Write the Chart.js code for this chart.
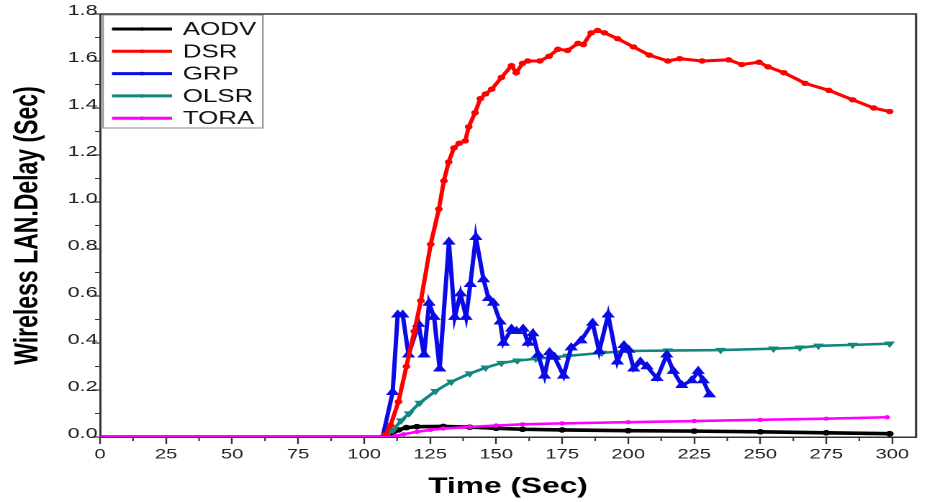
<!DOCTYPE html>
<html><head><meta charset="utf-8">
<script src="https://cdn.jsdelivr.net/npm/chart.js@4"></script>
<style>
html,body{margin:0;padding:0;background:#fff;overflow:hidden;}
#c{display:block;width:927px !important;height:502px !important;}
</style></head>
<body><canvas id="c" width="644" height="502"></canvas>
<script>
// ---- Tick values / labels ----
const xTickValues = [0,25,50,75,100,125,150,175,200,225,250,275,300];
const xMinorTicks = [12.5,37.5,62.5,87.5,112.5,137.5,162.5,187.5,212.5,237.5,262.5,287.5];
const yTickValues = [0,0.2,0.4,0.6,0.8,1.0,1.2,1.4,1.6,1.8];
const yMinorTicks = [0.1,0.3,0.5,0.7,0.9,1.1,1.3,1.5,1.7];
const seriesNames = ['AODV','DSR','GRP','OLSR','TORA'];

// ---- AODV ----
const aodvTime  = [0,20,40,60,80,100,107,110,113,116,120,130,140,150,160,175,200,225,250,275,299];
const aodvDelay = [0,0,0,0,0,0,0,0.012,0.03,0.04,0.044,0.045,0.042,0.037,0.033,0.03,0.027,0.025,0.022,0.018,0.014];

// ---- DSR ----
const dsrTime  = [0,20,40,60,80,100,106,108,110,113,116,119,121.5,125.2,128.3,130.2,132,134,136,138.3,139.6,142,144,146,148.3,152,155.8,157.6,160,162,166.5,170,173.4,177,181,183,186,188.4,191,196,202,208,215,219.5,228,238,243,249.5,253,259,267,276,285,293,299];
const dsrDelay = [0,0,0,0,0,0,0,0.01,0.05,0.15,0.3,0.45,0.58,0.82,0.97,1.09,1.17,1.23,1.25,1.26,1.32,1.38,1.44,1.46,1.48,1.53,1.58,1.55,1.59,1.60,1.60,1.62,1.65,1.645,1.675,1.67,1.72,1.73,1.72,1.695,1.66,1.625,1.60,1.61,1.60,1.605,1.585,1.595,1.575,1.55,1.505,1.475,1.435,1.40,1.385];

// ---- GRP ----
const grpTime  = [0,20,40,60,80,100,107,110.8,112.7,114.6,116.8,120.6,122.7,124.6,126.5,128.6,132.1,134.3,136.5,138.6,140.2,142.3,145.2,147.1,149,151.5,152.7,155.8,157.7,160.2,162.1,163.9,165.9,168.3,170.2,172.1,175.5,178.4,182.1,186.5,189,192.4,195.9,198.4,200.2,202.1,204.6,207.1,210.9,214.6,217.1,220.3,224,226.5,228.4,230.8];
const grpDelay = [0,0,0,0,0,0,0,0.19,0.52,0.52,0.35,0.48,0.35,0.57,0.51,0.29,0.83,0.51,0.61,0.51,0.65,0.85,0.67,0.59,0.57,0.49,0.40,0.46,0.45,0.46,0.40,0.44,0.35,0.26,0.36,0.34,0.26,0.38,0.41,0.485,0.365,0.52,0.32,0.39,0.37,0.29,0.32,0.30,0.25,0.35,0.28,0.22,0.24,0.28,0.24,0.18];

// ---- OLSR ----
const olsrTime  = [0,20,40,60,80,100,108,111,114,117,121,127,133,140,146,152,158,165,177,190,200,215,235,255,265,272,285,299];
const olsrDelay = [0,0,0,0,0,0,0,0.03,0.07,0.10,0.145,0.195,0.235,0.27,0.295,0.315,0.325,0.333,0.345,0.358,0.366,0.368,0.37,0.376,0.38,0.388,0.392,0.397];

// ---- TORA ----
const toraTime  = [0,20,40,60,80,100,109,112,115,120,125,130,140,150,160,175,200,225,250,275,298];
const toraDelay = [0,0,0,0,0,0,0,0.005,0.012,0.022,0.03,0.036,0.043,0.049,0.054,0.058,0.063,0.068,0.073,0.078,0.084];

const colors = ['#000000','#ff0000','#0a0ae6','#12877d','#ff00ff'];

function pts(t, v){ return t.map((x,i)=>({x:x, y:v[i]})); }
function rad(r){ return (c)=> (c.raw && c.raw.y === 0) ? 0 : r; }

const datasets = [
  {label:seriesNames[0], data:pts(aodvTime,aodvDelay), borderColor:colors[0], backgroundColor:colors[0], borderWidth:3.6, pointStyle:'circle', pointRadius:rad(1), order:4},
  {label:seriesNames[1], data:pts(dsrTime,dsrDelay), borderColor:colors[1], backgroundColor:colors[1], borderWidth:3, pointStyle:'circle', pointRadius:rad(1.2), order:1},
  {label:seriesNames[2], data:pts(grpTime,grpDelay), borderColor:colors[2], backgroundColor:colors[2], borderWidth:3, pointStyle:'triangle', pointRadius:rad(2.4), order:2},
  {label:seriesNames[3], data:pts(olsrTime,olsrDelay), borderColor:colors[3], backgroundColor:colors[3], borderWidth:2.6, pointStyle:'triangle', pointRotation:180, pointRadius:rad(1.7), order:3},
  {label:seriesNames[4], data:pts(toraTime,toraDelay), borderColor:colors[4], backgroundColor:colors[4], borderWidth:2.6, pointStyle:'circle', pointRadius:rad(0.8), order:0}
];

const framePlugin = {
  id:'frame',
  afterDraw(chart){
    const {ctx, chartArea:a, scales:{x,y}} = chart;
    ctx.save();
    ctx.strokeStyle='#333'; ctx.lineWidth=1.5;
    ctx.beginPath();
    ctx.moveTo(a.left,a.top); ctx.lineTo(a.right,a.top); ctx.lineTo(a.right,a.bottom);
    ctx.stroke();
    ctx.lineWidth=1.1;
    ctx.beginPath();
    xMinorTicks.forEach(v=>{const p=x.getPixelForValue(v); ctx.moveTo(p,a.bottom); ctx.lineTo(p,a.bottom+4);});
    yMinorTicks.forEach(v=>{const p=y.getPixelForValue(v); ctx.moveTo(a.left,p); ctx.lineTo(a.left-3.5,p);});
    ctx.stroke();
    // legend
    const bx=71.6, by=15, bw=111, bh=113;
    ctx.fillStyle='#fff'; ctx.fillRect(bx,by,bw,bh);
    ctx.strokeStyle='#8a8a8a'; ctx.lineWidth=1; ctx.strokeRect(bx,by,bw,bh);
    ctx.font='18px "Liberation Sans", Arial, sans-serif';
    ctx.textBaseline='middle'; ctx.textAlign='left';
    chart.data.datasets.forEach((d,i)=>{
      const yy = 29 + i*22.3;
      ctx.strokeStyle=d.borderColor; ctx.lineWidth=3;
      ctx.beginPath(); ctx.moveTo(77.8,yy); ctx.lineTo(119.5,yy); ctx.stroke();
      ctx.fillStyle=d.borderColor;
      ctx.beginPath(); ctx.arc(98.6,yy,1.8,0,Math.PI*2); ctx.fill();
      ctx.fillStyle='#111';
      ctx.fillText(d.label,127,yy+1);
    });
    ctx.restore();
  }
};

new Chart(document.getElementById('c'), {
  type:'line',
  data:{datasets},
  options:{
    responsive:false,
    devicePixelRatio:2,
    animation:false,
    layout:{padding:{top:14,right:3.5,left:0,bottom:0}},
    elements:{line:{tension:0}},
    plugins:{legend:{display:false}, tooltip:{enabled:false}},
    scales:{
      x:{
        type:'linear', min:0, max:309,
        afterBuildTicks(s){ s.ticks = xTickValues.map(v=>({value:v})); },
        afterFit(s){ s.height = 65; },
        grid:{drawOnChartArea:false, drawTicks:true, tickLength:7, tickColor:'#333', tickWidth:1.2},
        border:{display:true, color:'#333', width:1.5},
        ticks:{autoSkip:false, maxRotation:0, padding:2, color:'#222', font:{family:'"Liberation Sans", Arial, sans-serif', size:14}},
        title:{display:true, text:'Time (Sec)', color:'#000', padding:{top:0,bottom:2}, font:{family:'"Liberation Sans", Arial, sans-serif', size:22, weight:'bold'}}
      },
      y:{
        type:'linear', min:0, max:1.8,
        afterBuildTicks(s){ s.ticks = yTickValues.map(v=>({value:v})); },
        afterFit(s){ s.width = 69.5; },
        grid:{drawOnChartArea:false, drawTicks:true, tickLength:5.5, tickColor:'#333', tickWidth:1.2},
        border:{display:true, color:'#333', width:1.5},
        ticks:{padding:-3.8, labelOffset:-3, color:'#222', callback:(v)=>Number(v).toFixed(1), font:{family:'"Liberation Sans", Arial, sans-serif', size:15}},
        title:{display:true, text:'Wireless LAN.Delay (Sec)', color:'#000', padding:{top:6,bottom:0}, font:{family:'"Liberation Sans", Arial, sans-serif', size:23, weight:'bold'}}
      }
    }
  },
  plugins:[framePlugin]
});
</script>
</body></html>
